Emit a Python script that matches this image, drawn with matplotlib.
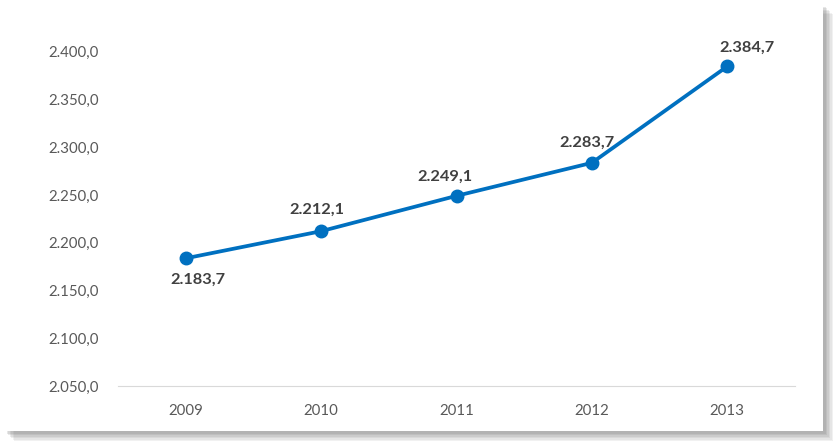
import matplotlib.pyplot as plt
from matplotlib.patches import Rectangle

anos = ["2009", "2010", "2011", "2012", "2013"]
valores = [2183.7, 2212.1, 2249.1, 2283.7, 2384.7]
rotulos = ["2.183,7", "2.212,1", "2.249,1", "2.283,7", "2.384,7"]
yticks = [2050, 2100, 2150, 2200, 2250, 2300, 2350, 2400]

plt.rcParams['font.family'] = ['Lato', 'DejaVu Sans']

fig = plt.figure(figsize=(8.35, 4.42), dpi=100)
fig.patch.set_facecolor('white')

# sombra do quadro (direita e embaixo)
W, H = 835, 442
for i, a in enumerate([0.10, 0.10, 0.12, 0.14, 0.16, 0.18]):
    off = 10 - i * 1.5
    fig.patches.append(Rectangle(((4 + off) / W, (11 - off) / H), (823 - 4) / W, (431 - 4) / H,
                                 transform=fig.transFigure, facecolor='#7f7f7f', alpha=a,
                                 edgecolor='none', zorder=0))
fig.patches.append(Rectangle((0, 11 / H), 823 / W, 431 / H, transform=fig.transFigure,
                             facecolor='white', edgecolor='none', zorder=1))

ax = fig.add_axes([118 / W, (H - 386) / H, (795 - 118) / W, (386 - 4) / H])
ax.set_facecolor('none')
ax.set_zorder(2)

x = list(range(len(anos)))
ax.plot(x, valores, color='#0070C0', lw=2.7, marker='o', ms=9, solid_capstyle='round')

# deslocamento dos rótulos (pixels), como no original
desl = [(12, -21), (-4, 21), (-12, 19), (-5, 20), (20, 19)]
for i, (v, r) in enumerate(zip(valores, rotulos)):
    dx, dy = desl[i]
    ax.annotate(r, (i, v), xytext=(dx * 0.72, dy * 0.72), textcoords='offset points', ha='center',
                va='center', fontsize=11.8, fontweight='bold', color='#404040')

ax.set_xlim(-0.5, 4.5)
ax.set_ylim(2050, 2450)
ax.set_xticks(x)
ax.set_xticklabels(anos)
ax.set_yticks(yticks)
ax.set_yticklabels([f"{t:,.1f}".replace(",", "X").replace(".", ",").replace("X", ".") for t in yticks])
ax.tick_params(length=0, labelsize=10.8, colors='#595959')
ax.tick_params(axis='y', pad=14)
ax.tick_params(axis='x', pad=13)
for lado in ['top', 'right', 'left']:
    ax.spines[lado].set_visible(False)
ax.spines['bottom'].set_color('#d9d9d9')

fig.savefig('out.png', dpi=100)
